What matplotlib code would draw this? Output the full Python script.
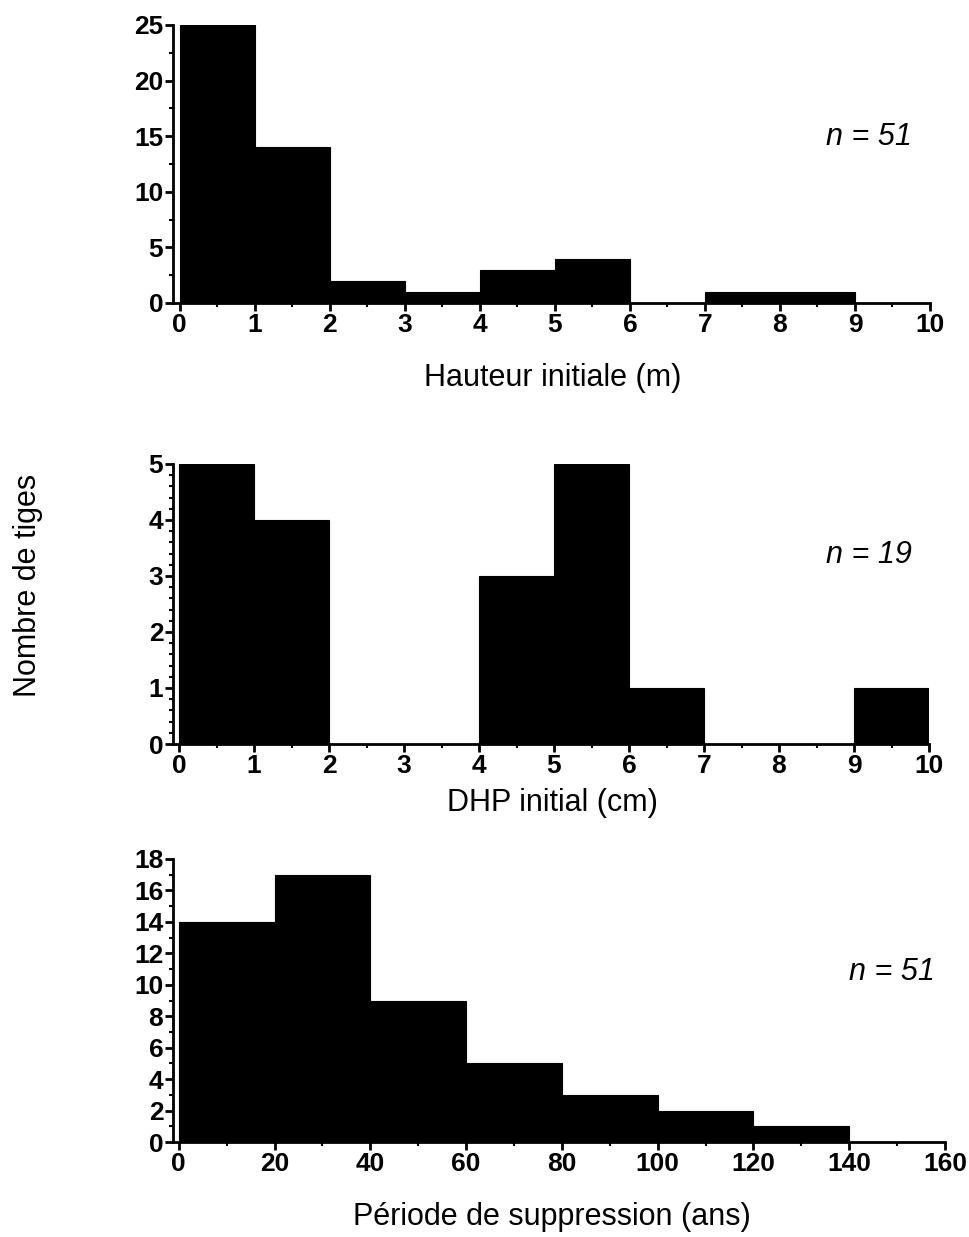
import numpy as np
import matplotlib
matplotlib.use("Agg")
import matplotlib.pyplot as plt
from matplotlib.ticker import MultipleLocator

plt.rcParams['font.family'] = ['Liberation Sans', 'DejaVu Sans']

# Panel 1: Hauteur initiale (m)
h_edges = [0, 1, 2, 3, 4, 5, 6, 7, 8, 9, 10]
h_counts = [25, 14, 2, 1, 3, 4, 0, 1, 1, 0]
# Panel 2: DHP initial (cm)
d_edges = [0, 1, 2, 3, 4, 5, 6, 7, 8, 9, 10]
d_counts = [5, 4, 0, 0, 3, 5, 1, 0, 0, 1]
# Panel 3: Période de suppression (ans)
p_edges = [0, 20, 40, 60, 80, 100, 120, 140, 160]
p_counts = [14, 17, 9, 5, 3, 2, 1, 0]

labels = ["Hauteur initiale (m)", "DHP initial (cm)", "Période de suppression (ans)"]
n_labels = ["n = 51", "n = 19", "n = 51"]

W, H = 969, 1237
fig = plt.figure(figsize=(W / 100, H / 100), dpi=100)


def add_ax(left, right, top, bottom):
    return fig.add_axes([left / W, 1 - bottom / H, (right - left) / W, (bottom - top) / H])


panels = [
    dict(box=(173, 930, 25, 303), edges=h_edges, counts=h_counts, xlim=(-0.09, 10), ylim=(0, 25),
         xmaj=1, xmin=0.5, ymaj=5, ymin=2.5, label=labels[0], label_y=378, n=n_labels[0], n_xy=(912, 137)),
    dict(box=(173, 929, 464, 744), edges=d_edges, counts=d_counts, xlim=(-0.08, 10), ylim=(0, 5),
         xmaj=1, xmin=0.5, ymaj=1, ymin=0.2, label=labels[1], label_y=803, n=n_labels[1], n_xy=(912, 555)),
    dict(box=(173, 945, 859, 1142), edges=p_edges, counts=p_counts, xlim=(-1.2, 160), ylim=(0, 18),
         xmaj=20, xmin=10, ymaj=2, ymin=1, label=labels[2], label_y=1217, n=n_labels[2], n_xy=(935, 972)),
]

for p in panels:
    ax = add_ax(*p['box'])
    e = np.array(p['edges'], dtype=float)
    ax.bar(e[:-1], p['counts'], width=np.diff(e), align='edge', color='black',
           edgecolor='black', linewidth=0.8)
    ax.set_xlim(*p['xlim'])
    ax.set_ylim(*p['ylim'])
    ax.spines['top'].set_visible(False)
    ax.spines['right'].set_visible(False)
    ax.spines['left'].set_linewidth(2)
    ax.spines['bottom'].set_linewidth(2)
    ax.xaxis.set_major_locator(MultipleLocator(p['xmaj']))
    ax.xaxis.set_minor_locator(MultipleLocator(p['xmin']))
    ax.yaxis.set_major_locator(MultipleLocator(p['ymaj']))
    ax.yaxis.set_minor_locator(MultipleLocator(p['ymin']))
    ax.tick_params(which='major', direction='out', length=6, width=2, labelsize=19, pad=1)
    ax.tick_params(which='minor', direction='out', length=3, width=1.5)
    for t in ax.get_xticklabels() + ax.get_yticklabels():
        t.set_fontweight('bold')
    fig.text(0.57, 1 - p['label_y'] / H, p['label'], ha='center', va='center', fontsize=22)
    fig.text(p['n_xy'][0] / W, 1 - p['n_xy'][1] / H, p['n'], ha='right', va='center',
             fontsize=22, style='italic')

fig.text(28 / W, 1 - 585 / H, "Nombre de tiges", rotation=90, ha='center', va='center', fontsize=22)

fig.savefig("out.png", dpi=100)
